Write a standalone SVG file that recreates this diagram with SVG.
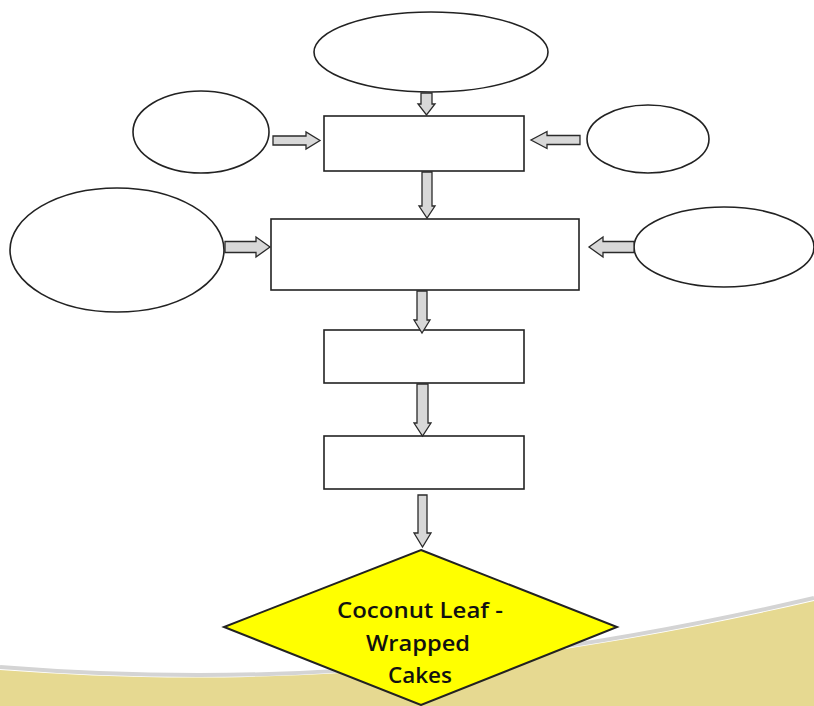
<svg xmlns="http://www.w3.org/2000/svg" width="814" height="706" viewBox="0 0 814 706">
  <style>
    .shape { fill: #ffffff; stroke: #222222; stroke-width: 1.6; }
    .arrow { fill: #d8d8d8; stroke: #2a2a2a; stroke-width: 1.3; stroke-linejoin: miter; }
    .label { font-family: "Open Sans", "Liberation Sans", sans-serif; font-size: 22px; font-weight: 600; fill: #111111; }
  </style>
  <rect x="0" y="0" width="814" height="706" fill="#ffffff"/>
  <g id="background">
    <path d="M0,667 C200,683 450,683 814,598" fill="none" stroke="#d4d4d4" stroke-width="4"/>
    <path d="M0,670 C200,685 450,685 814,601 L814,706 L0,706 Z" fill="#e6d991"/>
  </g>
  <g id="ellipse-top"><ellipse class="shape" cx="431" cy="52" rx="117" ry="40"/></g>
  <g id="ellipse-left-small"><ellipse class="shape" cx="201" cy="132" rx="68" ry="41"/></g>
  <g id="ellipse-right-small"><ellipse class="shape" cx="648" cy="139" rx="61" ry="34"/></g>
  <g id="ellipse-left-big"><ellipse class="shape" cx="117" cy="250" rx="107" ry="62"/></g>
  <g id="ellipse-right-big"><ellipse class="shape" cx="724" cy="247" rx="90" ry="40"/></g>
  <g id="box-1"><rect class="shape" x="324" y="116" width="200" height="55"/></g>
  <g id="box-2"><rect class="shape" x="271" y="219" width="308" height="71"/></g>
  <g id="box-3"><rect class="shape" x="324" y="330" width="200" height="53"/></g>
  <g id="box-4"><rect class="shape" x="324" y="436" width="200" height="53"/></g>
  <g id="diamond">
    <polygon points="421,550 617,627 421,705 224,627" fill="#ffff00" stroke="#222222" stroke-width="2"/>
    <text class="label" x="337" y="618" textLength="166" lengthAdjust="spacingAndGlyphs">Coconut Leaf -</text>
    <text class="label" x="366" y="651" textLength="104" lengthAdjust="spacingAndGlyphs">Wrapped</text>
    <text class="label" x="388" y="683" textLength="64" lengthAdjust="spacingAndGlyphs">Cakes</text>
  </g>
  <g id="connectors">
    <path class="arrow" d="M421,93 L432,93 L432,104 L435,104 L426.5,115 L418,104 L421,104 Z"/>
    <path class="arrow" d="M273,136 L306,136 L306,132 L320,140.5 L306,149 L306,145 L273,145 Z"/>
    <path class="arrow" d="M580,135.5 L547,135.5 L547,131.5 L531,140 L547,148.5 L547,144.5 L580,144.5 Z"/>
    <path class="arrow" d="M422,172 L432,172 L432,206 L435,206 L427,218 L419,206 L422,206 Z"/>
    <path class="arrow" d="M225,241.5 L256,241.5 L256,237 L270,247 L256,257 L256,252.5 L225,252.5 Z"/>
    <path class="arrow" d="M634,241.5 L603,241.5 L603,237 L589,247 L603,257 L603,252.5 L634,252.5 Z"/>
    <path class="arrow" d="M417,291 L427,291 L427,320 L430,320 L422,333 L414,320 L417,320 Z"/>
    <path class="arrow" d="M417,384 L428,384 L428,423 L431,423 L422.5,436 L414,423 L417,423 Z"/>
    <path class="arrow" d="M418,495 L427,495 L427,533 L431,533 L422.5,547 L414,533 L418,533 Z"/>
  </g>
</svg>
